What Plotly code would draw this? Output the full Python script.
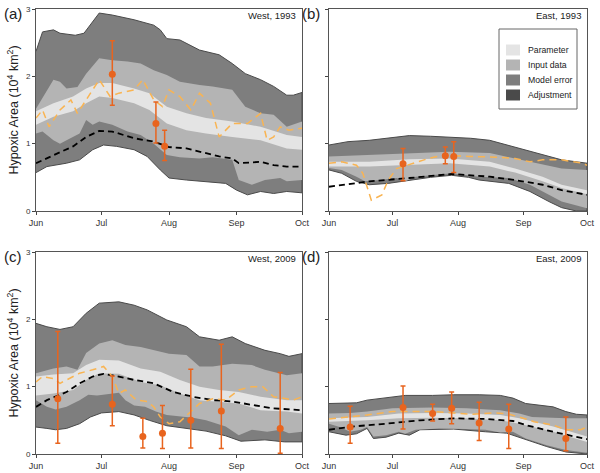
import pandas as pd
import plotly.graph_objects as go
from plotly.subplots import make_subplots

# (day after 1 June, value) pairs, units of 10^4 km^2

# (a) West, 1993
a_model_hi = [(0, 2.37), (3, 2.66), (8, 2.69), (11, 2.64), (18, 2.61), (22, 2.64), (29, 2.94), (35, 2.91),
              (45, 2.84), (54, 2.76), (57, 2.69), (60, 2.56), (66, 2.54), (75, 2.39), (84, 2.32), (90, 2.19),
              (96, 2.04), (103, 1.95), (109, 1.85), (115, 1.72), (118, 1.72), (122, 1.76)]
a_model_lo = [(0, 0.57), (5, 0.66), (14, 0.71), (20, 0.76), (26, 0.91), (31, 0.98), (37, 0.96), (45, 0.91),
              (51, 0.81), (57, 0.61), (61, 0.49), (69, 0.46), (75, 0.44), (87, 0.41), (92, 0.31), (97, 0.24),
              (103, 0.29), (109, 0.26), (115, 0.29), (122, 0.27)]
a_input_hi = [(0, 1.52), (5, 1.80), (8, 1.95), (11, 1.92), (14, 1.82), (19, 1.84), (23, 2.04), (29, 2.27),
              (35, 2.24), (42, 2.22), (48, 2.19), (54, 2.09), (60, 2.02), (66, 1.92), (75, 1.87), (81, 1.85),
              (90, 1.80), (96, 1.55), (103, 1.45), (109, 1.43), (115, 1.25), (122, 1.33)]
a_input_lo = [(0, 1.15), (3, 1.18), (8, 1.05), (11, 1.00), (14, 1.05), (20, 1.15), (23, 1.35), (26, 1.28),
              (29, 1.33), (35, 1.28), (42, 1.18), (48, 1.13), (54, 1.00), (60, 0.83), (66, 0.80), (75, 0.78),
              (81, 0.80), (90, 0.76), (93, 0.46), (99, 0.39), (105, 0.46), (112, 0.49), (115, 0.44), (122, 0.46)]
a_param_hi = [(0, 1.48), (8, 1.60), (17, 1.70), (23, 1.82), (29, 1.90), (35, 1.90), (45, 1.82), (52, 1.75),
              (60, 1.55), (69, 1.45), (78, 1.38), (90, 1.33), (103, 1.25), (115, 1.13), (122, 1.10)]
a_param_lo = [(0, 1.28), (8, 1.40), (17, 1.48), (23, 1.60), (29, 1.70), (35, 1.68), (45, 1.60), (52, 1.50),
              (60, 1.30), (69, 1.20), (78, 1.15), (90, 1.10), (103, 1.05), (115, 0.93), (122, 0.91)]
a_median = [(0, 0.71), (8, 0.83), (17, 0.96), (23, 1.10), (29, 1.19), (35, 1.18), (45, 1.08), (54, 1.03),
            (61, 0.95), (69, 0.93), (84, 0.81), (90, 0.78), (93, 0.71), (103, 0.73), (109, 0.68), (115, 0.66),
            (122, 0.66)]
a_alt = [(0, 1.38), (3, 1.50), (6, 1.25), (11, 1.50), (16, 1.65), (19, 1.45), (23, 1.65), (29, 1.95), (34, 1.70),
         (38, 1.75), (45, 1.80), (49, 1.95), (54, 1.65), (58, 1.55), (61, 1.80), (66, 1.70), (71, 1.50), (75, 1.75),
         (80, 1.60), (84, 1.10), (90, 1.30), (97, 1.30), (103, 1.45), (106, 1.05), (109, 1.10), (112, 1.25),
         (116, 1.20), (122, 1.23)]
# (day, value, low, high)
a_cruise = [(35, 2.03, 1.57, 2.53), (55, 1.30, 1.01, 1.62), (59, 0.96, 0.75, 1.20)]

# (b) East, 1993
b_model_hi = [(0, 0.98), (9, 1.03), (19, 1.05), (28, 1.08), (38, 1.12), (48, 1.11), (57, 1.10), (67, 1.08),
              (76, 1.05), (88, 0.95), (98, 0.86), (110, 0.76), (122, 0.71)]
b_model_lo = [(0, 0.61), (6, 0.56), (13, 0.44), (19, 0.39), (28, 0.41), (38, 0.46), (48, 0.50), (58, 0.53),
              (66, 0.50), (71, 0.46), (85, 0.41), (95, 0.29), (104, 0.14), (110, 0.05), (117, 0.0), (122, 0.0)]
b_input_hi = [(0, 0.81), (19, 0.83), (38, 0.86), (57, 0.88), (76, 0.86), (88, 0.78), (98, 0.71), (110, 0.63),
              (122, 0.61)]
b_input_lo = [(0, 0.64), (6, 0.61), (13, 0.51), (17, 0.44), (24, 0.46), (32, 0.49), (36, 0.44), (41, 0.51),
              (58, 0.56), (71, 0.51), (85, 0.49), (95, 0.39), (104, 0.24), (110, 0.14), (122, 0.04)]
b_param_hi = [(0, 0.73), (19, 0.73), (38, 0.77), (57, 0.78), (76, 0.73), (88, 0.63), (101, 0.51), (110, 0.39),
              (122, 0.31)]
b_param_lo = [(0, 0.66), (19, 0.66), (38, 0.69), (57, 0.71), (76, 0.66), (88, 0.57), (101, 0.44), (110, 0.34),
              (122, 0.25)]
b_median = [(0, 0.36), (19, 0.44), (38, 0.49), (58, 0.55), (76, 0.51), (88, 0.46), (101, 0.39), (110, 0.31),
            (122, 0.24)]
b_alt = [(0, 0.71), (6, 0.73), (13, 0.68), (16, 0.56), (18, 0.36), (20, 0.16), (25, 0.24), (28, 0.46), (32, 0.63),
         (41, 0.72), (47, 0.78), (54, 0.83), (66, 0.81), (79, 0.80), (88, 0.78), (95, 0.73), (101, 0.76),
         (110, 0.76), (120, 0.71), (122, 0.68)]
b_cruise = [(35, 0.70, 0.45, 0.93), (55, 0.82, 0.70, 0.95), (59, 0.81, 0.57, 1.03)]

# (c) West, 2009
c_model_hi = [(0, 1.94), (5, 1.89), (11, 1.85), (17, 1.89), (23, 2.09), (29, 2.24), (38, 2.26), (45, 2.21),
              (51, 2.14), (60, 1.99), (69, 1.89), (75, 1.74), (84, 1.69), (90, 1.74), (96, 1.64), (105, 1.54),
              (112, 1.49), (116, 1.45), (122, 1.49)]
c_model_lo = [(0, 0.40), (5, 0.38), (9, 0.36), (14, 0.38), (20, 0.45), (25, 0.55), (30, 0.61), (38, 0.63),
              (45, 0.58), (52, 0.50), (60, 0.42), (69, 0.38), (78, 0.34), (87, 0.27), (94, 0.19), (105, 0.21),
              (114, 0.18), (122, 0.18)]
c_input_hi = [(0, 1.20), (8, 1.27), (14, 1.30), (19, 1.25), (23, 1.50), (29, 1.64), (35, 1.69), (41, 1.62),
              (48, 1.59), (54, 1.54), (61, 1.49), (69, 1.47), (75, 1.30), (81, 1.30), (90, 1.34), (99, 1.32),
              (105, 1.25), (115, 1.17), (122, 1.20)]
c_input_lo = [(0, 0.80), (5, 0.70), (9, 0.66), (14, 0.70), (20, 0.80), (24, 0.88), (28, 0.87), (33, 0.89),
              (38, 0.91), (41, 0.80), (45, 0.72), (50, 0.70), (55, 0.63), (60, 0.58), (68, 0.55), (72, 0.54),
              (78, 0.50), (87, 0.41), (93, 0.28), (99, 0.36), (106, 0.33), (112, 0.36), (116, 0.31), (122, 0.33)]
c_param_hi = [(0, 1.15), (8, 1.18), (17, 1.20), (23, 1.32), (29, 1.40), (38, 1.39), (48, 1.27), (57, 1.22),
              (66, 1.10), (75, 1.00), (84, 0.95), (93, 0.92), (103, 0.85), (115, 0.80), (122, 0.80)]
c_param_lo = [(0, 0.87), (8, 0.90), (17, 0.95), (23, 1.10), (29, 1.20), (38, 1.19), (48, 1.07), (57, 1.02),
              (66, 0.90), (75, 0.80), (84, 0.78), (93, 0.75), (103, 0.65), (115, 0.63), (122, 0.60)]
c_median = [(0, 0.70), (5, 0.80), (14, 0.92), (20, 1.05), (26, 1.15), (31, 1.19), (38, 1.15), (45, 1.10),
            (54, 1.05), (63, 0.92), (72, 0.85), (81, 0.80), (90, 0.78), (99, 0.73), (108, 0.68), (122, 0.65)]
c_alt = [(0, 1.07), (3, 1.15), (8, 1.12), (11, 1.05), (14, 1.10), (20, 1.20), (26, 1.25), (31, 1.30), (35, 1.15),
         (38, 0.90), (41, 0.95), (46, 0.80), (51, 0.78), (54, 0.70), (57, 0.55), (61, 0.45), (66, 0.48), (70, 0.60),
         (75, 0.75), (81, 0.82), (87, 0.80), (93, 0.95), (99, 1.00), (104, 1.00), (109, 0.85), (113, 0.83),
         (118, 0.80), (122, 0.85)]
c_cruise = [(10, 0.82, 0.16, 1.82), (35, 0.74, 0.42, 1.16), (49, 0.26, 0.09, 0.53), (58, 0.31, 0.08, 0.72),
            (71, 0.50, 0.09, 1.26), (85, 0.64, 0.08, 1.63), (112, 0.38, 0.01, 1.21)]

# (d) East, 2009
d_model_hi = [(0, 0.75), (13, 0.76), (18, 0.80), (30, 0.85), (36, 0.87), (49, 0.87), (59, 0.88), (71, 0.88),
              (81, 0.87), (87, 0.83), (93, 0.75), (106, 0.70), (112, 0.63), (117, 0.59), (122, 0.58)]
d_model_lo = [(0, 0.33), (8, 0.28), (13, 0.30), (18, 0.38), (21, 0.23), (27, 0.25), (33, 0.31), (38, 0.28),
              (43, 0.36), (59, 0.37), (74, 0.33), (84, 0.31), (93, 0.21), (103, 0.11), (112, 0.03), (122, 0.0)]
d_input_hi = [(0, 0.60), (10, 0.61), (18, 0.63), (30, 0.68), (49, 0.69), (65, 0.68), (81, 0.65), (90, 0.60),
              (96, 0.55), (112, 0.53), (122, 0.53)]
d_input_lo = [(0, 0.45), (5, 0.40), (10, 0.33), (15, 0.36), (18, 0.40), (21, 0.26), (27, 0.28), (33, 0.33),
              (36, 0.30), (41, 0.36), (52, 0.38), (65, 0.37), (74, 0.36), (81, 0.32), (87, 0.33), (93, 0.23),
              (103, 0.13), (112, 0.06), (122, 0.02)]
d_param_hi = [(0, 0.53), (18, 0.55), (33, 0.60), (49, 0.61), (65, 0.60), (81, 0.58), (90, 0.53), (106, 0.41),
              (122, 0.26)]
d_param_lo = [(0, 0.48), (18, 0.50), (33, 0.53), (49, 0.54), (65, 0.53), (81, 0.50), (90, 0.45), (106, 0.33),
              (122, 0.18)]
d_median = [(0, 0.36), (12, 0.41), (27, 0.45), (43, 0.50), (59, 0.53), (74, 0.52), (87, 0.49), (93, 0.43),
            (106, 0.33), (122, 0.22)]
d_alt = [(0, 0.52), (11, 0.55), (18, 0.58), (30, 0.63), (40, 0.63), (49, 0.63), (59, 0.61), (68, 0.59), (78, 0.61),
         (84, 0.60), (90, 0.55), (97, 0.48), (106, 0.43), (112, 0.36), (119, 0.36), (122, 0.40)]
d_cruise = [(10, 0.40, 0.16, 0.71), (35, 0.69, 0.37, 1.01), (49, 0.60, 0.49, 0.74), (58, 0.68, 0.45, 0.92),
            (71, 0.46, 0.20, 0.77), (85, 0.37, 0.08, 0.74), (112, 0.23, 0.05, 0.55)]

legend_names = ["Parameter", "Input data", "Model error", "Adjustment"]
legend_colors = ["#e4e4e4", "#b4b4b4", "#7e7e7e", "#4a4a4a"]
month_ticks = ["06-01", "07-01", "08-01", "09-01", "10-01"]

panels = [
    dict(row=1, col=1, year=1993, tag="(a)", name="West, 1993",
         bands=[(a_model_hi, a_model_lo), (a_input_hi, a_input_lo), (a_param_hi, a_param_lo)],
         median=a_median, alt=a_alt, cruise=a_cruise),
    dict(row=1, col=2, year=1993, tag="(b)", name="East, 1993",
         bands=[(b_model_hi, b_model_lo), (b_input_hi, b_input_lo), (b_param_hi, b_param_lo)],
         median=b_median, alt=b_alt, cruise=b_cruise),
    dict(row=2, col=1, year=2009, tag="(c)", name="West, 2009",
         bands=[(c_model_hi, c_model_lo), (c_input_hi, c_input_lo), (c_param_hi, c_param_lo)],
         median=c_median, alt=c_alt, cruise=c_cruise),
    dict(row=2, col=2, year=2009, tag="(d)", name="East, 2009",
         bands=[(d_model_hi, d_model_lo), (d_input_hi, d_input_lo), (d_param_hi, d_param_lo)],
         median=d_median, alt=d_alt, cruise=d_cruise),
]

FONT = "Liberation Sans, Arial, sans-serif"
ORANGE = "#e8641e"
LIGHT_ORANGE = "#f9b452"

fig = make_subplots(rows=2, cols=2)

# pixel boxes of the four plot areas in the 600x473 picture
x_dom = {1: [36 / 600, 302 / 600], 2: [329 / 600, 587 / 600]}
y_dom = {1: [1 - 211 / 473, 1 - 9 / 473], 2: [1 - 454 / 473, 1 - 252 / 473]}


def to_xy(pairs, base):
    d = [p[0] for p in pairs]
    v = [p[1] for p in pairs]
    return list(base + pd.to_timedelta(d, unit="D")), v


for i, p in enumerate(panels):
    r, c = p["row"], p["col"]
    base = pd.Timestamp(f"{p['year']}-06-01")
    band_fill = [legend_colors[2], legend_colors[1], legend_colors[0]]
    for k, (hi, lo) in enumerate(p["bands"]):
        xh, yh = to_xy(hi, base)
        xl, yl = to_xy(lo, base)
        fig.add_trace(go.Scatter(
            x=xh + xl[::-1], y=yh + yl[::-1], fill="toself", fillcolor=band_fill[k],
            mode="lines",
            line=dict(color=legend_colors[3] if k == 0 else band_fill[k], width=1 if k == 0 else 0),
            showlegend=False, hoverinfo="skip"), row=r, col=c)

    xm, ym = to_xy(p["median"], base)
    fig.add_trace(go.Scatter(x=xm, y=ym, mode="lines", line=dict(color="black", width=1.8, dash="6px,4px"),
                             showlegend=False), row=r, col=c)
    xa, ya = to_xy(p["alt"], base)
    fig.add_trace(go.Scatter(x=xa, y=ya, mode="lines", line=dict(color=LIGHT_ORANGE, width=1.5, dash="7px,5px"),
                             showlegend=False), row=r, col=c)

    cx, cy = to_xy(p["cruise"], base)
    fig.add_trace(go.Scatter(
        x=cx, y=cy, mode="markers", marker=dict(color=ORANGE, size=7),
        error_y=dict(type="data", array=[q[3] - q[1] for q in p["cruise"]],
                     arrayminus=[q[1] - q[2] for q in p["cruise"]],
                     color=ORANGE, thickness=1.5, width=2.5),
        showlegend=False), row=r, col=c)

    ax = "" if i == 0 else str(i + 1)
    fig.update_xaxes(range=[f"{p['year']}-06-01", f"{p['year']}-10-01"],
                     tickvals=[f"{p['year']}-{m}" for m in month_ticks], tickformat="%b",
                     domain=x_dom[c], row=r, col=c)
    fig.update_yaxes(range=[0, 3], tickvals=[0, 1, 2, 3], domain=y_dom[r],
                     showticklabels=(c == 1), row=r, col=c)
    if c == 1:
        fig.update_yaxes(title=dict(text="Hypoxic Area (10<sup>4</sup> km<sup>2</sup>)",
                                    font=dict(size=12.5, color="#222"), standoff=4), row=r, col=c)

    fig.add_annotation(xref=f"x{ax} domain", yref=f"y{ax} domain", x=0.985, y=0.97, xanchor="right",
                       yanchor="middle", text=p["name"], showarrow=False, font=dict(size=9.5, color="#222"))
    fig.add_annotation(xref="paper", yref=f"y{ax} domain", x=(2 if c == 1 else 300) / 600, y=0.98,
                       xanchor="left", yanchor="middle", text=p["tag"], showarrow=False,
                       font=dict(size=15, color="#222"))

fig.update_xaxes(ticks="outside", ticklen=3, tickcolor="#444", showline=True, mirror=True, linecolor="#555",
                 linewidth=1, showgrid=False, zeroline=False, automargin=False,
                 tickfont=dict(size=9, color="#333"))
fig.update_yaxes(ticks="outside", ticklen=3, tickcolor="#444", showline=True, mirror=True, linecolor="#555",
                 linewidth=1, showgrid=False, zeroline=False, automargin=False,
                 tickfont=dict(size=8, color="#333"))

# legend box drawn inside panel (b)
lx0, lx1, ly0, ly1 = (499 - 329) / 258, (577 - 329) / 258, (211 - 109) / 202, (211 - 29) / 202
fig.add_shape(type="rect", xref="x2 domain", yref="y2 domain", x0=lx0, x1=lx1, y0=ly0, y1=ly1,
              line=dict(color="#666", width=1), fillcolor="white", layer="above")
for k, (nm, col) in enumerate(zip(legend_names, legend_colors)):
    yc = (211 - (50 + 15 * k)) / 202
    fig.add_shape(type="rect", xref="x2 domain", yref="y2 domain", x0=(506 - 329) / 258, x1=(520 - 329) / 258,
                  y0=yc - 5.5 / 202, y1=yc + 5.5 / 202, line=dict(width=0), fillcolor=col, layer="above")
    fig.add_annotation(xref="x2 domain", yref="y2 domain", x=(526 - 329) / 258, y=yc, xanchor="left",
                       yanchor="middle", text=nm, showarrow=False, font=dict(size=8.7, color="#222"))

fig.update_layout(width=600, height=473, margin=dict(l=0, r=0, t=0, b=0), paper_bgcolor="white",
                  plot_bgcolor="white", font=dict(family=FONT), showlegend=False)

# drop the page's default 8px body margin so the 600x473 figure fills the window
fig.write_html("out.html", config={"displayModeBar": False},
               post_script="document.body.style.margin='0';")
